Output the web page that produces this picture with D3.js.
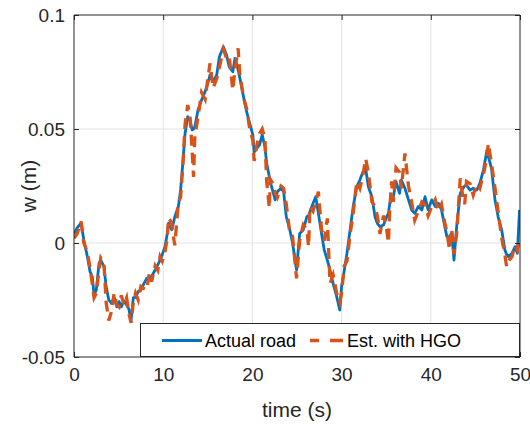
<!DOCTYPE html>
<html><head><meta charset="utf-8">
<script src="https://cdn.jsdelivr.net/npm/d3@7/dist/d3.min.js"></script>
<style>body{margin:0;background:#fff;}svg{display:block;font-family:"Liberation Sans",Arial,sans-serif;}</style>
</head><body>
<script>
const time = [0.0,0.35,0.8,1.1,1.5,1.8,2.05,2.25,2.5,2.8,3.0,3.36,3.6,3.9,4.2,4.5,4.8,5.05,5.3,5.6,5.9,6.15,6.4,6.65,6.9,7.2,7.5,7.85,8.15,8.45,8.7,9.1,9.4,9.65,9.9,10.2,10.45,10.6,10.95,11.1,11.3,11.7,11.95,12.2,12.45,12.75,13.0,13.25,13.4,13.55,13.9,14.3,14.7,15.0,15.25,15.6,16.0,16.3,16.75,17.1,17.4,17.8,18.05,18.4,18.6,19.0,19.35,19.7,20.05,20.2,20.5,20.8,21.1,21.4,21.6,21.9,22.0,22.3,22.55,22.8,23.2,23.5,23.8,24.2,24.5,24.95,25.3,25.7,26.1,26.3,26.45,26.8,27.1,27.4,27.75,28.05,28.4,28.7,29.05,29.45,29.8,30.0,30.3,30.6,31.0,31.3,31.7,32.05,32.4,32.7,33.0,33.4,33.75,34.0,34.3,34.7,35.05,35.25,35.4,35.6,35.8,36.1,36.5,36.7,37.1,37.5,37.85,38.2,38.6,39.0,39.35,39.7,40.1,40.5,40.85,41.2,41.5,41.8,42.1,42.35,42.6,42.9,43.3,43.6,43.8,44.0,44.4,44.75,45.15,45.5,45.9,46.3,46.45,46.8,47.2,47.55,47.95,48.3,48.5,48.7,49.1,49.45,49.7,49.95];
const actualRoad = [0.004,0.0066,0.0088,0.0013,-0.006,-0.0126,-0.0147,-0.0228,-0.0206,-0.009,-0.0075,-0.0104,-0.019,-0.025,-0.0265,-0.0238,-0.028,-0.0257,-0.028,-0.0253,-0.0272,-0.029,-0.0338,-0.024,-0.0238,-0.0213,-0.0206,-0.0177,-0.0155,-0.015,-0.0147,-0.0118,-0.0095,-0.0075,-0.005,-0.0016,0.004,0.0087,0.0058,0.008,0.0115,0.016,0.0232,0.035,0.048,0.0554,0.054,0.0496,0.05,0.051,0.0583,0.0627,0.0664,0.07,0.0737,0.0708,0.0737,0.0817,0.0861,0.0825,0.0773,0.0751,0.081,0.0759,0.0722,0.0642,0.0576,0.0525,0.0474,0.04,0.0415,0.043,0.0474,0.0422,0.035,0.029,0.0269,0.0225,0.0189,0.0225,0.024,0.0225,0.0115,0.0057,0.0,-0.0118,0.0042,0.0057,0.0115,0.012,0.0137,0.0174,0.0203,0.013,0.0042,-0.003,-0.0075,-0.0118,-0.0177,-0.0235,-0.0294,-0.019,-0.012,-0.0045,0.0072,0.016,0.0247,0.0276,0.0313,0.0327,0.0247,0.0203,0.0115,0.0086,0.0072,0.0079,0.0115,0.013,0.0174,0.019,0.0203,0.0269,0.0218,0.0276,0.024,0.0189,0.0145,0.013,0.016,0.0145,0.0203,0.0145,0.0189,0.016,0.0174,0.0145,0.0086,0.0028,0.0028,0.0042,-0.0075,0.0072,0.0218,0.024,0.025,0.0254,0.0232,0.024,0.0232,0.0262,0.032,0.0408,0.038,0.0327,0.0189,0.0115,0.0057,-0.003,-0.005,-0.006,-0.0045,-0.0016,-0.0045,0.0145];
const estHGO = [0.002,0.004,0.0094,0.0,-0.004,-0.011,-0.018,-0.024,-0.022,-0.012,-0.0066,-0.009,-0.026,-0.034,-0.03,-0.022,-0.027,-0.028,-0.023,-0.027,-0.024,-0.031,-0.035,-0.026,-0.022,-0.025,-0.019,-0.02,-0.0206,-0.013,-0.017,-0.01,-0.012,-0.006,-0.008,-0.004,0.002,0.011,0.009,0.004,-0.001,0.018,0.02,0.0335,0.052,0.0605,0.056,0.04,0.029,0.047,0.055,0.066,0.063,0.072,0.0788,0.068,0.072,0.077,0.085,0.081,0.082,0.067,0.076,0.0854,0.074,0.064,0.059,0.05,0.045,0.036,0.043,0.048,0.05,0.046,0.027,0.0153,0.028,0.026,0.022,0.02,0.025,0.024,0.017,0.004,0.003,-0.0155,0.001,0.008,0.006,-0.0016,0.016,0.014,0.018,0.0225,0.006,0.001,0.0108,-0.0177,-0.014,-0.022,-0.026,-0.022,-0.01,-0.008,0.005,0.013,0.027,0.024,0.03,0.037,0.031,0.018,0.016,0.012,0.004,0.012,0.006,0.0,0.015,0.027,0.018,0.033,0.031,0.024,0.0393,0.025,0.018,0.01,0.014,0.018,0.017,0.012,0.016,0.019,0.014,0.017,0.01,0.005,-0.003,0.006,-0.005,0.004,0.0284,0.02,0.017,0.027,0.026,0.021,0.026,0.024,0.03,0.038,0.0437,0.035,0.024,0.0137,0.002,-0.005,-0.0104,-0.008,-0.006,-0.001,-0.003,0.003];
const xTicks = [0,10,20,30,40,50];
const yTicks = [-0.05,0,0.05,0.1];
const yTickLabels = ["-0.05","0","0.05","0.1"];
const seriesNames = ["Actual road","Est. with HGO"];
const colors = ["#0072BD","#D95319"];

const W=530,H=428;
const L=74,R=520,T=15,B=357;
const svg=d3.select("body").append("svg").attr("width",W).attr("height",H);
const x=d3.scaleLinear().domain([0,50]).range([L,R]);
const y=d3.scaleLinear().domain([-0.05,0.1]).range([B,T]);

svg.append("rect").attr("x",L).attr("y",T).attr("width",R-L).attr("height",B-T).attr("fill","#fff");

const grid=svg.append("g").attr("stroke","#e3e3e3").attr("stroke-width",1);
xTicks.slice(1,-1).forEach(v=>grid.append("line").attr("x1",x(v)).attr("x2",x(v)).attr("y1",T).attr("y2",B));
yTicks.slice(1,-1).forEach(v=>grid.append("line").attr("y1",y(v)).attr("y2",y(v)).attr("x1",L).attr("x2",R));

svg.append("clipPath").attr("id","clp").append("rect").attr("x",L).attr("y",T).attr("width",R-L).attr("height",B-T);
const pts=time.map((t,i)=>({t,a:actualRoad[i],e:estHGO[i]}));
const lineA=d3.line().x(d=>x(d.t)).y(d=>y(d.a));
const lineE=d3.line().x(d=>x(d.t)).y(d=>y(d.e));
const g=svg.append("g").attr("clip-path","url(#clp)");
g.append("path").datum(pts).attr("d",lineA).attr("fill","none").attr("stroke",colors[0]).attr("stroke-width",2.8).attr("stroke-linejoin","round");
g.append("path").datum(pts).attr("d",lineE).attr("fill","none").attr("stroke",colors[1]).attr("stroke-width",3.3).attr("stroke-dasharray","11,7");

const axc="#262626";
const ax=svg.append("g");
const xb=d3.axisBottom(x).tickValues(xTicks).tickSize(-5).tickPadding(11).tickFormat(d3.format("d"));
const xt=d3.axisTop(x).tickValues(xTicks).tickSize(-5).tickFormat("");
const yl=d3.axisLeft(y).tickValues(yTicks).tickSize(-5).tickPadding(9).tickFormat((d,i)=>yTickLabels[i]);
const yr=d3.axisRight(y).tickValues(yTicks).tickSize(-5).tickFormat("");
function style(sel){sel.selectAll("path").attr("stroke",axc);sel.selectAll("line").attr("stroke",axc);sel.selectAll("text").attr("fill",axc).style("font-size","19px").style("font-family","'Liberation Sans',Arial,sans-serif");}
ax.append("g").attr("transform",`translate(0,${B})`).call(xb).call(style).call(s=>s.select(".domain").attr("d",`M${L},0H${R}`));
ax.append("g").attr("transform",`translate(0,${T})`).call(xt).call(style).call(s=>s.select(".domain").attr("d",`M${L},0H${R}`));
ax.append("g").attr("transform",`translate(${L},0)`).call(yl).call(style).call(s=>s.select(".domain").attr("d",`M0,${T}V${B}`));
ax.append("g").attr("transform",`translate(${R},0)`).call(yr).call(style).call(s=>s.select(".domain").attr("d",`M0,${T}V${B}`));

svg.append("text").attr("x",(L+R)/2).attr("y",417).attr("text-anchor","middle").attr("fill",axc).style("font-size","21px").text("time (s)");
svg.append("text").attr("transform",`translate(36,${(T+B)/2}) rotate(-90)`).attr("text-anchor","middle").attr("fill",axc).style("font-size","21px").text("w (m)");

const lg=svg.append("g");
lg.append("rect").attr("x",140.5).attr("y",323.5).attr("width",379).attr("height",33).attr("fill","#fff").attr("stroke",axc).attr("stroke-width",1);
lg.append("line").attr("x1",162).attr("x2",202).attr("y1",340.5).attr("y2",340.5).attr("stroke",colors[0]).attr("stroke-width",2.8);
lg.append("text").attr("x",205).attr("y",347).attr("fill","#000").style("font-size","18px").text(seriesNames[0]);
lg.append("line").attr("x1",310).attr("x2",343).attr("y1",340.5).attr("y2",340.5).attr("stroke",colors[1]).attr("stroke-width",3.3).attr("stroke-dasharray","9,11,13");
lg.append("text").attr("x",347).attr("y",347).attr("fill","#000").style("font-size","18px").text(seriesNames[1]);
</script>
</body></html>
